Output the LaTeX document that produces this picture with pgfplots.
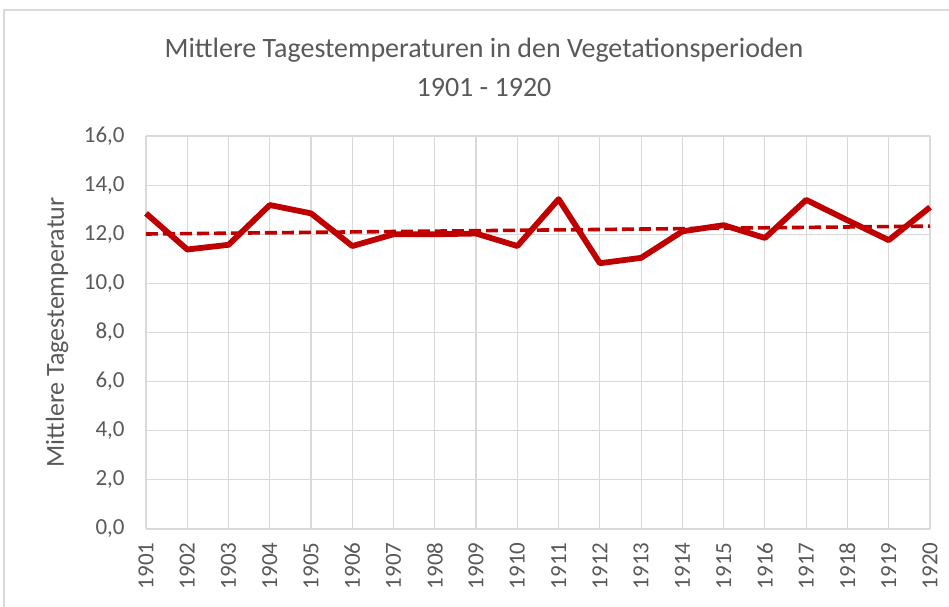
\documentclass[border=0pt]{standalone}
\usepackage{pgfplots}
\pgfplotsset{compat=1.18}
\usepackage{fontspec}
\setmainfont{Carlito}
\definecolor{linered}{HTML}{C00000}
\definecolor{txtgray}{HTML}{595959}
\definecolor{gridgray}{HTML}{D9D9D9}
\begin{document}
\begin{tikzpicture}
\begin{axis}[
  at={(0pt,0pt)}, anchor=south west,
  scale only axis, width=392pt, height=196.5pt,
  xmin=1901, xmax=1920, ymin=0, ymax=16,
  xtick={1901,...,1920}, ytick={0,2,...,16},
  grid=major, major grid style={draw=gridgray, line width=0.6pt},
  axis line style={draw=none},
  tick style={draw=none},
  /pgf/number format/assume math mode=true,
  xticklabel style={rotate=90, anchor=east, inner sep=0pt, xshift=-6.5pt,
    font=\fontsize{11.5}{13}\selectfont, text=txtgray,
    /pgf/number format/1000 sep={}},
  yticklabel style={anchor=east, inner sep=0pt, xshift=-10.5pt,
    font=\fontsize{11.5}{13}\selectfont, text=txtgray,
    /pgf/number format/.cd, fixed, fixed zerofill, precision=1, use comma},
  clip=false,
]
\addplot[linered, line width=2.9pt, line join=round] coordinates {
(1901,12.85) (1902,11.38) (1903,11.57) (1904,13.19) (1905,12.85)
(1906,11.52) (1907,12.00) (1908,12.00) (1909,12.03) (1910,11.52)
(1911,13.43) (1912,10.82) (1913,11.04) (1914,12.12) (1915,12.37)
(1916,11.85) (1917,13.40) (1918,12.57) (1919,11.76) (1920,13.10)
};
\addplot[linered, line width=1.8pt, dash pattern=on 6pt off 2.5pt] coordinates {
(1901,12.01) (1920,12.33)
};
\end{axis}
\path[use as bounding box] (-73pt,-38.5pt) rectangle (401.5pt,264.5pt);
\draw[gridgray, line width=0.8pt] (-71pt,-40pt) -- (-71pt,259.5pt) -- (403pt,259.5pt);
\node[rotate=90, text=txtgray, font=\fontsize{13}{15}\selectfont] at (-44.5pt,98.25pt) {Mittlere Tagestemperatur};
\node[align=center, text=txtgray, font=\fontsize{14}{19.5}\selectfont] at (169pt,231pt) {Mittlere Tagestemperaturen in den Vegetationsperioden\\1901 - 1920};
\end{tikzpicture}
\end{document}
